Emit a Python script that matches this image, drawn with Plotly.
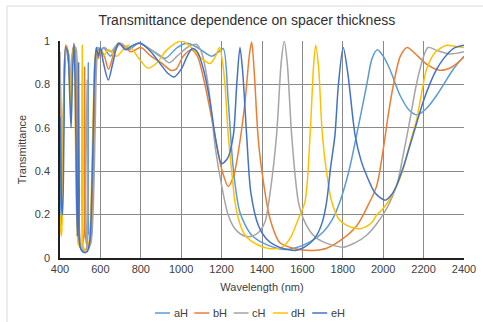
import plotly.graph_objects as go

# ---------------- data ----------------
series_names = ["aH", "bH", "cH", "dH", "eH"]
series_colors = ["#5B9BD5", "#ED7D31", "#A5A5A5", "#FFC000", "#4472C4"]

wl_aH = [400, 406, 412, 420, 430, 442, 455, 466, 474, 482, 490, 500, 515, 530, 537, 540, 543, 550,
         560, 568, 576, 586, 600, 615, 650, 690, 740, 790, 850, 920, 980, 1030, 1080, 1150, 1185,
         1208, 1233, 1258, 1291, 1349, 1431, 1500, 1560, 1638, 1703, 1750, 1786, 1830, 1868, 1918,
         1945, 1971, 2000, 2033, 2083, 2130, 2169, 2215, 2265, 2347, 2400]
t_aH = [0.45, 0.15, 0.3, 0.8, 0.97, 0.9, 0.75, 0.97, 0.96, 0.6, 0.15, 0.05, 0.03, 0.04, 0.1, 0.9, 0.12, 0.1,
        0.3, 0.65, 0.9, 0.97, 0.95, 0.97, 0.93, 0.99, 0.96, 0.99, 0.96, 0.92, 0.97, 0.99, 0.97, 0.93, 0.95,
        0.965, 0.72, 0.41, 0.21, 0.105, 0.058, 0.04, 0.045, 0.074, 0.12, 0.18, 0.26, 0.4, 0.565, 0.796,
        0.92, 0.96, 0.93, 0.87, 0.75, 0.68, 0.66, 0.69, 0.75, 0.87, 0.93]

wl_bH = [400, 405, 410, 418, 428, 440, 452, 462, 472, 480, 488, 496, 505, 518, 522, 526, 540, 555,
         565, 573, 580, 590, 600, 620, 640, 670, 700, 750, 800, 850, 900, 950, 975, 1010, 1050, 1080,
         1118, 1160, 1200, 1233, 1260, 1283, 1316, 1338, 1349, 1362, 1380, 1398, 1440, 1489, 1563,
         1650, 1720, 1802, 1870, 1918, 1967, 2000, 2025, 2050, 2085, 2119, 2160, 2220, 2281, 2340, 2400]
t_bH = [0.85, 0.5, 0.3, 0.7, 0.98, 0.95, 0.7, 0.95, 0.98, 0.75, 0.3, 0.1, 0.05, 0.1, 0.88, 0.1, 0.04, 0.1,
        0.4, 0.8, 0.96, 0.92, 0.96, 0.93, 0.87, 0.95, 0.99, 0.95, 0.97, 0.93, 0.9, 0.865, 0.87, 0.93, 0.96, 0.93,
        0.796, 0.6, 0.41, 0.33, 0.38, 0.49, 0.72, 0.94, 0.995, 0.85, 0.565, 0.41, 0.18, 0.07, 0.043,
        0.035, 0.045, 0.09, 0.15, 0.23, 0.33, 0.5, 0.66, 0.795, 0.93, 0.97, 0.94, 0.89, 0.865, 0.88, 0.926]

wl_cH = [400, 406, 412, 420, 432, 445, 457, 468, 478, 486, 494, 503, 525, 532, 535, 538, 550, 565,
         574, 582, 592, 600, 620, 650, 690, 740, 790, 850, 900, 940, 980, 1030, 1075, 1100, 1134, 1170,
         1200, 1233, 1270, 1316, 1350, 1385, 1415, 1440, 1472, 1495, 1510, 1525, 1547, 1580, 1610,
         1654, 1703, 1802, 1860, 1918, 1970, 2017, 2067, 2100, 2133, 2160, 2182, 2222, 2270, 2330, 2400]
t_cH = [0.95, 0.6, 0.35, 0.75, 0.97, 0.93, 0.8, 0.97, 0.97, 0.6, 0.2, 0.06, 0.03, 0.05, 0.82, 0.06, 0.06, 0.25,
        0.6, 0.9, 0.97, 0.95, 0.97, 0.95, 0.99, 0.97, 0.99, 0.96, 0.93, 0.9, 0.93, 0.97, 0.985, 0.95, 0.796, 0.5,
        0.335, 0.197, 0.13, 0.1, 0.1, 0.12, 0.166, 0.3, 0.565, 0.9, 1.0, 0.9, 0.565, 0.26, 0.17,
        0.105, 0.074, 0.05, 0.07, 0.105, 0.16, 0.228, 0.335, 0.48, 0.64, 0.78, 0.87, 0.97, 0.955, 0.94, 0.95]

wl_dH = [400, 404, 408, 414, 422, 432, 445, 455, 464, 470, 476, 484, 492, 504, 507, 510, 513, 516,
         530, 545, 555, 565, 573, 582, 592, 600, 615, 640, 680, 737, 790, 835, 880, 930, 1002, 1050,
         1100, 1143, 1170, 1190, 1205, 1217, 1233, 1250, 1266, 1290, 1316, 1380, 1440, 1500, 1539,
         1580, 1613, 1638, 1655, 1666, 1680, 1699, 1722, 1745, 1780, 1819, 1885, 1940, 1967, 2000,
         2050, 2099, 2130, 2166, 2190, 2215, 2260, 2314, 2360, 2400]
t_dH = [0.2, 0.12, 0.1, 0.4, 0.9, 0.97, 0.9, 0.7, 0.95, 0.97, 0.6, 0.15, 0.06, 0.05, 0.3, 0.98, 0.3, 0.05,
        0.03, 0.08, 0.3, 0.7, 0.92, 0.97, 0.94, 0.96, 0.93, 0.96, 0.93, 0.98, 0.92, 0.875, 0.9, 0.96, 1.0, 0.97,
        0.92, 0.896, 0.93, 0.97, 0.9, 0.796, 0.565, 0.4, 0.26, 0.16, 0.105, 0.06, 0.043, 0.05, 0.09,
        0.18, 0.26, 0.565, 0.88, 0.98, 0.88, 0.565, 0.38, 0.26, 0.18, 0.15, 0.135, 0.16, 0.197, 0.228,
        0.3, 0.41, 0.52, 0.64, 0.76, 0.87, 0.95, 0.98, 0.975, 0.97]

wl_eH = [400, 403, 408, 413, 420, 428, 438, 448, 455, 462, 469, 475, 482, 486, 489, 492, 495, 500,
         520, 535, 548, 556, 565, 572, 580, 590, 600, 615, 639, 662, 690, 725, 760, 800, 850, 900, 935,
         965, 1000, 1030, 1055, 1080, 1110, 1143, 1170, 1200, 1230, 1258, 1275, 1291, 1305, 1324, 1345,
         1382, 1420, 1465, 1520, 1563, 1600, 1640, 1671, 1700, 1720, 1740, 1761, 1778, 1802, 1825,
         1861, 1890, 1918, 1960, 2010, 2040, 2067, 2100, 2133, 2165, 2198, 2230, 2265, 2300, 2347, 2400]
t_eH = [0.65, 0.5, 0.25, 0.2, 0.6, 0.97, 0.95, 0.75, 0.6, 0.85, 0.99, 0.8, 0.3, 0.1, 0.3, 0.9, 0.3, 0.05,
        0.025, 0.03, 0.08, 0.25, 0.6, 0.88, 0.97, 0.93, 0.97, 0.9, 0.82, 0.9, 0.99, 0.96, 0.98, 0.99, 0.95, 0.89, 0.85,
        0.834, 0.87, 0.93, 0.965, 0.95, 0.87, 0.72, 0.55, 0.435, 0.46, 0.565, 0.8, 0.97, 0.85, 0.565, 0.3,
        0.15, 0.09, 0.058, 0.04, 0.035, 0.045, 0.07, 0.105, 0.17, 0.26, 0.42, 0.565, 0.796, 0.97, 0.85,
        0.565, 0.45, 0.38, 0.3, 0.266, 0.29, 0.335, 0.42, 0.52, 0.62, 0.72, 0.8, 0.87, 0.92, 0.965, 0.98]

x_tick_vals = [400, 600, 800, 1000, 1200, 1400, 1600, 1800, 2000, 2200, 2400]
y_tick_vals = [0, 0.2, 0.4, 0.6, 0.8, 1]
y_tick_text = ["0", "0.2", "0.4", "0.6", "0.8", "1"]

title_text = "Transmittance dependence on spacer thickness"
x_title = "Wavelength (nm)"
y_title = "Transmittance"

# ---------------- figure ----------------
all_x = [wl_aH, wl_bH, wl_cH, wl_dH, wl_eH]
all_y = [t_aH, t_bH, t_cH, t_dH, t_eH]

W, H = 483, 322
ML, MR, MT, MB = 60, 19, 41, 64
PW, PH = W - ML - MR, H - MT - MB

FONT = "Liberation Sans, Arial, sans-serif"
TXT = "#404040"
GRID = "#8a8a8a"

fig = go.Figure()
for name, color, xs, ys in zip(series_names, series_colors, all_x, all_y):
    fig.add_trace(go.Scatter(
        x=xs, y=ys, name=name, mode="lines", showlegend=False,
        line=dict(color=color, width=1.5, shape="spline", smoothing=0.8),
    ))

# compact Excel-style legend below the axis title (layout decoration)
legend_y = (MT + PH - 313) / PH
legend_x0 = 155
legend_step = 39.3
swatch_len = 15
shapes = []
annotations = []
for i, (name, color) in enumerate(zip(series_names, series_colors)):
    px0 = legend_x0 + i * legend_step
    shapes.append(dict(type="line", xref="paper", yref="paper",
                       x0=(px0 - ML) / PW, x1=(px0 + swatch_len - ML) / PW,
                       y0=legend_y, y1=legend_y, line=dict(color=color, width=1.5)))
    annotations.append(dict(text=name, xref="paper", yref="paper", showarrow=False,
                            x=(px0 + swatch_len + 1.5 - ML) / PW, y=legend_y,
                            xanchor="left", yanchor="middle",
                            font=dict(family=FONT, size=11, color=TXT)))

# light chart-area border
shapes.append(dict(type="rect", xref="paper", yref="paper",
                   x0=(7 - ML) / PW, x1=(W + 10 - ML) / PW,
                   y0=(MT + PH - (H + 10)) / PH, y1=(MT + PH - 6) / PH,
                   line=dict(color="#d9d9d9", width=1), fillcolor="rgba(0,0,0,0)", layer="below"))

fig.update_layout(
    width=W, height=H,
    margin=dict(l=ML, r=MR, t=MT, b=MB, autoexpand=False),
    paper_bgcolor="white", plot_bgcolor="white",
    font=dict(family=FONT, size=11, color=TXT),
    title=dict(text=title_text, x=0.511, xref="container", xanchor="center",
               y=1 - 20 / H, yref="container", yanchor="middle",
               font=dict(family=FONT, size=14, color="#303030")),
    showlegend=False,
    shapes=shapes,
    annotations=annotations,
)

fig.update_xaxes(
    range=[400, 2400], tickvals=x_tick_vals, showgrid=True, gridcolor=GRID, gridwidth=1.2,
    showline=True, linecolor="#202020", linewidth=1.5, zeroline=False, ticks="",
    tickfont=dict(family=FONT, size=11, color=TXT),
    title=dict(text=x_title, standoff=9, font=dict(family=FONT, size=11, color=TXT)),
)
fig.update_yaxes(
    range=[0, 1], tickvals=y_tick_vals, ticktext=y_tick_text, showgrid=True, gridcolor=GRID,
    gridwidth=1.2, showline=True, linecolor="#202020", linewidth=1.5, zeroline=False, ticks="",
    ticklabelstandoff=6, tickfont=dict(family=FONT, size=11, color=TXT),
    title=dict(text=y_title, standoff=6, font=dict(family=FONT, size=11, color=TXT)),
)

fig.write_html("out.html")
